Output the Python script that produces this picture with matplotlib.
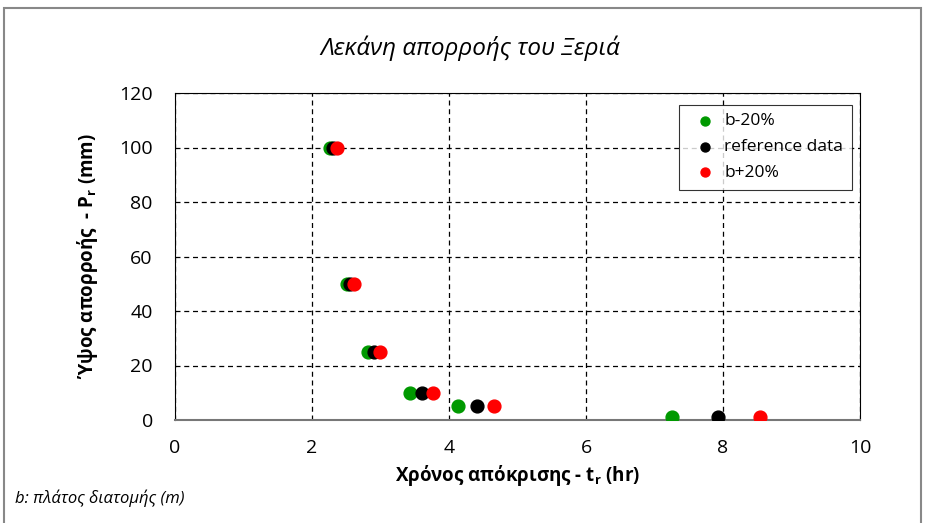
import matplotlib
matplotlib.use('Agg')
import matplotlib.pyplot as plt
from matplotlib.patches import Rectangle

plt.rcParams['font.family'] = ['Open Sans', 'DejaVu Sans']
plt.rcParams['mathtext.default'] = 'regular'

# Ύψος απορροής (mm)
ypsos = [100, 50, 25, 10, 5, 1]
# Χρόνος απόκρισης (hr)
t_minus20 = [2.27, 2.51, 2.82, 3.43, 4.13, 7.26]
t_ref = [2.31, 2.56, 2.90, 3.61, 4.41, 7.93]
t_plus20 = [2.36, 2.61, 2.99, 3.77, 4.66, 8.54]

fig = plt.figure(figsize=(9.25, 5.23), dpi=100)
ax = fig.add_axes([175/925, 103/523, 685/925, 327/523])

ax.scatter(t_minus20, ypsos, s=85, c='#009900', label='b-20%', zorder=3)
ax.scatter(t_ref, ypsos, s=85, c='black', label='reference data', zorder=3)
ax.scatter(t_plus20, ypsos, s=85, c='#ff0000', label='b+20%', zorder=3)

ax.set_xlim(0, 10)
ax.set_ylim(0, 120)
ax.set_xticks(range(0, 11, 2))
ax.set_yticks(range(0, 121, 20))
ax.grid(True, linestyle=(0, (4, 3)), color='black', linewidth=0.9)
ax.tick_params(length=0, labelsize=14)
ax.tick_params(axis='x', pad=14)
ax.tick_params(axis='y', pad=16)
for s in ['top', 'right', 'left']:
    ax.spines[s].set_color('black')
    ax.spines[s].set_linewidth(0.8)
ax.spines['bottom'].set_color('#777777')
ax.spines['bottom'].set_linewidth(1.5)

ax.set_xlabel('Χρόνος απόκρισης - t$_r$ (hr)', fontsize=13.5, fontweight='bold', labelpad=4)
ax.set_ylabel('Ύψος απορροής  - P$_r$ (mm)', fontsize=13.5, fontweight='bold', labelpad=14)

leg = ax.legend(loc='upper right', bbox_to_anchor=(0.993, 0.975), fontsize=12.5,
                frameon=True, fancybox=False, edgecolor='black', handletextpad=0.1,
                borderpad=0.5, labelspacing=0.55, markerscale=0.7, borderaxespad=0.2)
leg.get_frame().set_linewidth(0.8)

fig.text(470/925, 1 - 48/523, 'Λεκάνη απορροής του Ξεριά', fontsize=17.5, style='italic',
         ha='center', va='center')
fig.text(15/925, 1 - 498/523, 'b: πλάτος διατομής (m)', fontsize=12, style='italic',
         ha='left', va='center')

fig.patches.append(Rectangle((4/925, -0.02), 917/925, 1.02 - 8/523, transform=fig.transFigure,
                             fill=False, edgecolor='#888888', linewidth=1.5))

fig.savefig('out.png', dpi=100)
